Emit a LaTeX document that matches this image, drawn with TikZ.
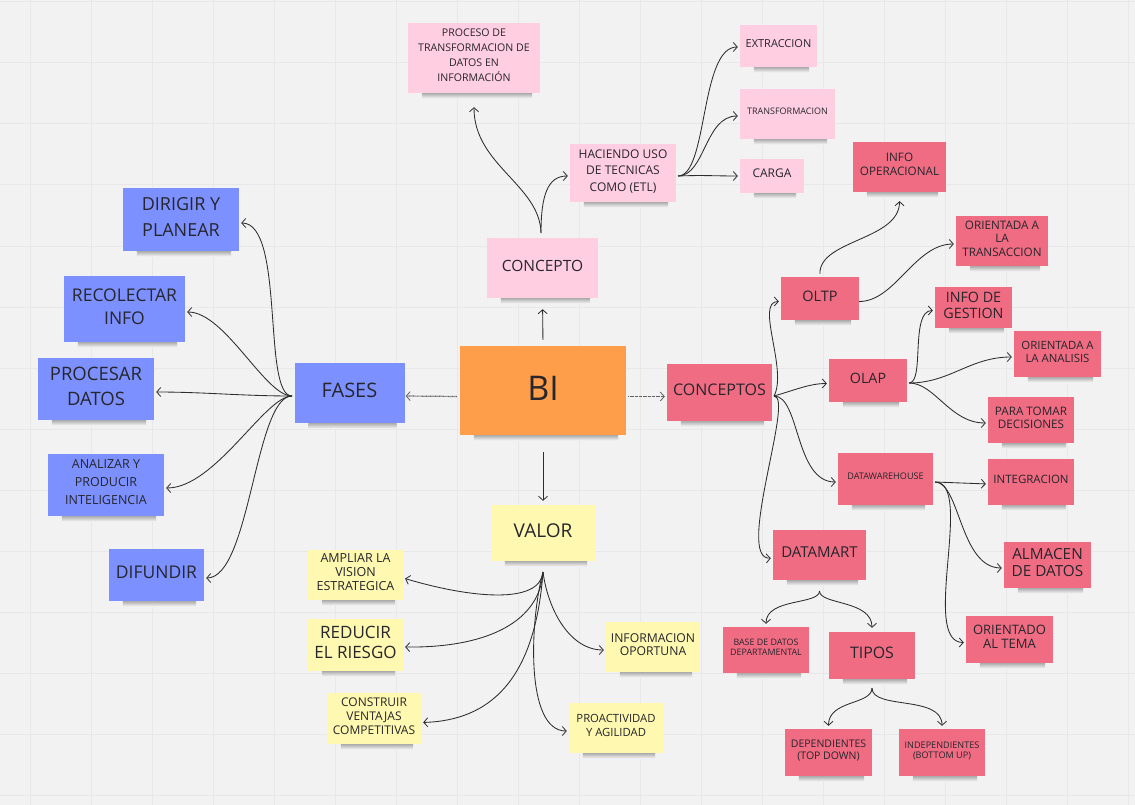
\documentclass[tikz,border=0pt]{standalone}
\usepackage{fontspec}
\setmainfont{Open Sans}
\usetikzlibrary{arrows.meta}
\definecolor{bg}{RGB}{242,242,242}
\definecolor{gridc}{RGB}{232,232,232}
\definecolor{nblue}{RGB}{124,145,255}
\definecolor{norange}{RGB}{255,158,74}
\definecolor{npink}{RGB}{255,206,224}
\definecolor{nred}{RGB}{240,108,131}
\definecolor{nyellow}{RGB}{255,248,176}
\definecolor{ink}{RGB}{38,38,44}
\definecolor{wire}{RGB}{45,45,45}
\begin{document}
\begin{tikzpicture}[x=1pt,y=-1pt,
  note/.style={rectangle, inner sep=0pt, align=center, text=ink, text depth=5pt},
  sz/.style 2 args={minimum width=#1, minimum height=#2},
  fs/.style 2 args={font=\fontsize{#1}{#2}\selectfont},
  bluenote/.style={note, fill=nblue},
  pinknote/.style={note, fill=npink},
  rednote/.style={note, fill=nred},
  yellownote/.style={note, fill=nyellow},
  notefade/.style={top color=black!32, bottom color=bg, draw=none},
  wire/.style={draw=wire, line width=0.85pt, -{Straight Barb[length=4pt,width=9pt,line width=0.8pt]}},
  dotwire/.style={wire, draw=wire!75, line width=1.2pt, dash pattern=on 0.8pt off 0.5pt}
]
\useasboundingbox (0,0) rectangle (1135,805);
\fill[bg] (0,0) rectangle (1135,805);
\foreach \i in {0,...,18} \draw[gridc, line width=1pt] ({30+61*\i},0) -- ({30+61*\i},805);
\foreach \j in {0,...,13} \draw[gridc, line width=1pt] (0,{2+61*\j}) -- (1135,{2+61*\j});

% central
\node[note, fill=norange, sz={166}{89}, fs={34}{40}] (bi) at (543,390.5) {BI};
\node[pinknote, sz={111}{60}, fs={15.5}{22}] (concepto) at (542.5,268) {CONCEPTO};
\node[bluenote, sz={110}{60}, fs={20}{28}] (fases) at (349.5,393) {FASES};
\node[yellownote, sz={104}{56}, fs={19}{27}] (valor) at (543,533) {VALOR};
\node[rednote, sz={105}{57}, fs={16}{22}] (conceptos) at (719.5,392.5) {CONCEPTOS};

% top
\node[pinknote, sz={132}{70}, fs={10.6}{15}] (proceso) at (474,58) {PROCESO DE\\TRANSFORMACION DE\\DATOS EN\\INFORMACIÓN};
\node[pinknote, sz={106}{58}, fs={12}{16.2}] (haciendo) at (623,173) {HACIENDO USO\\DE TECNICAS\\COMO (ETL)};
\node[pinknote, sz={77}{42}, fs={11}{15}] (extraccion) at (778.5,46) {EXTRACCION};
\node[pinknote, sz={95}{50}, fs={9}{13}] (transformacion) at (787.5,114) {TRANSFORMACION};
\node[pinknote, sz={64}{34}, fs={12}{16}] (carga) at (772,176) {CARGA};

% left
\node[bluenote, sz={116}{63}, fs={18}{26}] (dirigir) at (181,219.5) {DIRIGIR Y\\PLANEAR};
\node[bluenote, sz={121}{66}, fs={17.5}{23.5}] (recolectar) at (124.5,309) {RECOLECTAR\\INFO};
\node[bluenote, sz={116}{62}, fs={18.5}{25.5}] (procesar) at (96,389) {PROCESAR\\DATOS};
\node[bluenote, sz={116}{62}, fs={12.5}{18}] (analizar) at (106,485) {ANALIZAR Y\\PRODUCIR\\INTELIGENCIA};
\node[bluenote, sz={95}{52}, fs={17.5}{24}] (difundir) at (156.5,575) {DIFUNDIR};

% bottom
\node[yellownote, sz={95}{50}, fs={12.5}{14}] (ampliar) at (355.5,575) {AMPLIAR LA\\VISION\\ESTRATEGICA};
\node[yellownote, sz={95}{52}, fs={17}{19.5}] (reducir) at (355.5,645) {REDUCIR\\EL RIESGO};
\node[yellownote, sz={94}{51}, fs={12}{14}] (construir) at (374,718.5) {CONSTRUIR\\VENTAJAS\\COMPETITIVAS};
\node[yellownote, sz={94}{50}, fs={12.2}{13.5}] (informacion) at (653,647) {INFORMACION\\OPORTUNA};
\node[yellownote, sz={94}{50}, fs={11.3}{14}] (proactividad) at (616,728) {PROACTIVIDAD\\Y AGILIDAD};

% right
\node[rednote, sz={93}{50}, fs={11.7}{13.7}] (infoop) at (899.5,167) {INFO\\OPERACIONAL};
\node[rednote, sz={92}{50}, fs={11.7}{13.3}] (orientrans) at (1002,241) {ORIENTADA A\\LA\\TRANSACCION};
\node[rednote, sz={78}{43}, fs={14.5}{18}] (oltp) at (820,298.5) {OLTP};
\node[rednote, sz={77}{41}, fs={14.3}{16}] (infogest) at (973.5,307.5) {INFO DE\\GESTION};
\node[rednote, sz={87}{46}, fs={11.4}{12.8}] (orienanal) at (1057.5,354) {ORIENTADA A\\LA ANALISIS};
\node[rednote, sz={78}{43}, fs={14.3}{18}] (olap) at (868,380.5) {OLAP};
\node[rednote, sz={86}{46}, fs={11.7}{13}] (paratomar) at (1031,420) {PARA TOMAR\\DECISIONES};
\node[rednote, sz={95}{52}, fs={9.1}{12}] (dwh) at (885.5,479) {DATAWAREHOUSE};
\node[rednote, sz={86}{46}, fs={11.5}{14}] (integracion) at (1031,482) {INTEGRACION};
\node[rednote, sz={93}{50}, fs={15}{18}] (datamart) at (819.5,555) {DATAMART};
\node[rednote, sz={87}{46}, fs={15.3}{17.7}] (almacen) at (1047.5,565) {ALMACEN\\DE DATOS};
\node[rednote, sz={87}{47}, fs={13}{14.3}] (orientema) at (1009.5,639.5) {ORIENTADO\\AL TEMA};
\node[rednote, sz={86}{46}, fs={8.9}{10}] (base) at (766,650) {BASE DE DATOS\\DEPARTAMENTAL};
\node[rednote, sz={86}{47}, fs={15.9}{18}] (tipos) at (872,655.5) {TIPOS};
\node[rednote, sz={87}{47}, fs={10.5}{11.7}] (dependientes) at (828.5,752.5) {DEPENDIENTES\\(TOP DOWN)};
\node[rednote, sz={86}{47}, fs={9.1}{10}] (independientes) at (942,752.5) {INDEPENDIENTES\\(BOTTOM UP)};

% soft shadows under the notes
\foreach \n in {bi,concepto,fases,valor,conceptos,proceso,haciendo,extraccion,transformacion,carga,
  dirigir,recolectar,procesar,analizar,difundir,ampliar,reducir,construir,informacion,proactividad,
  infoop,orientrans,oltp,infogest,orienanal,olap,paratomar,dwh,integracion,datamart,almacen,orientema,
  base,tipos,dependientes,independientes}
  \shade[notefade] ([xshift=14pt]\n.south west) rectangle ([xshift=-8pt,yshift=-5pt]\n.south east);

% hubs
\coordinate (ctop) at (541,233);
\coordinate (hout) at (678,176);
\coordinate (fout) at (292,396);
\coordinate (vout) at (543,572);
\coordinate (cout) at (774,396);
\coordinate (olapout) at (909,383);
\coordinate (dwhout) at (935,482);
\coordinate (dmout) at (819.5,591);
\coordinate (tout) at (872,688);

% BI
\draw[wire, shorten <=6pt, shorten >=11pt] (bi.north) -- (concepto.south);
\draw[wire, shorten <=17pt, shorten >=4pt] (bi.south) -- (valor.north);
\draw[dotwire, shorten <=3pt, shorten >=1pt] ([yshift=-6pt]bi.west) -- ([yshift=-3pt]fases.east);
\draw[dotwire, shorten <=2pt, shorten >=2pt] ([yshift=-6pt]bi.east) -- ([yshift=-4pt]conceptos.west);

% concepto
\draw[wire, shorten >=14pt] (ctop) .. controls +(-1,-48) and +(0,72) .. (proceso.south);
\draw[wire, shorten >=2pt] (ctop) .. controls +(0,-38) and +(-22,0) .. ([yshift=-3pt]haciendo.west);
\draw[wire, shorten >=2pt] (hout) .. controls +(30,0) and +(-40,0) .. ([yshift=-1pt]extraccion.west);
\draw[wire, shorten >=2pt] (hout) .. controls +(27,0) and +(-35,0) .. ([yshift=-2pt]transformacion.west);
\draw[wire, shorten >=2pt] (hout) .. controls +(25,-1) and +(-25,0) .. (carga.west);

% fases
\draw[wire, shorten >=2pt] (fout) .. controls +(-30,0) and +(46,0) .. ([yshift=-3.5pt]dirigir.east);
\draw[wire, shorten >=2pt] (fout) .. controls +(-27,0) and +(40,0) .. ([yshift=-3pt]recolectar.east);
\draw[wire, shorten >=2pt] (fout) .. controls +(-50,0) and +(50,0) .. ([yshift=-3pt]procesar.east);
\draw[wire, shorten >=2pt] (fout) .. controls +(-27,0) and +(51,0) .. ([yshift=-3pt]analizar.east);
\draw[wire, shorten >=2pt] (fout) .. controls +(-37,0) and +(46,0) .. ([yshift=-3pt]difundir.east);

% valor
\draw[wire, shorten >=2pt] (vout) .. controls +(-3,33) and +(67,20) .. ([yshift=-3pt]ampliar.east);
\draw[wire, shorten >=2pt] (vout) .. controls +(-3,48) and +(87,1) .. ([yshift=-2pt]reducir.east);
\draw[wire, shorten >=2pt] (vout) .. controls +(-8,108) and +(69,-2) .. ([yshift=-4pt]construir.east);
\draw[wire, shorten >=2pt] (vout) .. controls +(-13,48) and +(-44,0) .. ([yshift=-3pt]proactividad.west);
\draw[wire, shorten >=2pt] (vout) .. controls +(5,38) and +(-36,0) .. ([yshift=-3pt]informacion.west);

% conceptos
\draw[wire, shorten >=2pt] (cout) .. controls +(14,-26) and +(-26,0) .. ([yshift=-3pt]oltp.west);
\draw[wire, shorten >=2pt] (cout) .. controls +(21,-6) and +(-19,0) .. ([yshift=-3pt]olap.west);
\draw[wire, shorten >=2pt] (cout) .. controls +(26,0) and +(-43,0) .. ([yshift=-3pt]dwh.west);
\draw[wire, shorten >=2pt] (cout) .. controls +(21,0) and +(-38,2) .. ([yshift=-3pt]datamart.west);

% oltp
\draw[wire, shorten <=3pt, shorten >=9pt] (oltp.north) .. controls +(-1,-37) and +(0,48) .. (infoop.south);
\draw[wire, shorten >=2pt] ([yshift=-3pt]oltp.east) .. controls +(36,0) and +(-41,0) .. ([yshift=-3pt]orientrans.west);

% olap
\draw[wire, shorten >=2pt] (olapout) .. controls +(16,0) and +(-25,0) .. ([yshift=-3pt]infogest.west);
\draw[wire, shorten >=2pt] (olapout) .. controls +(41,0) and +(-44,0) .. ([yshift=-3pt]orienanal.west);
\draw[wire, shorten >=2pt] (olapout) .. controls +(26,0) and +(-38,0) .. ([yshift=-3pt]paratomar.west);

% datawarehouse
\draw[wire, shorten >=2pt] (dwhout) -- ([yshift=-2pt]integracion.west);
\draw[wire, shorten >=2pt] (dwhout) .. controls +(25,0) and +(-44,0) .. ([yshift=-3pt]almacen.west);
\draw[wire, shorten >=2pt] (dwhout) .. controls +(40,0) and +(-46,0) .. ([yshift=-3pt]orientema.west);

% datamart
\draw[wire, shorten >=3pt] (dmout) .. controls +(0,14) and +(0,-29) .. (base.north);
\draw[wire, shorten >=4pt] (dmout) .. controls +(0,14) and +(0,-32) .. (tipos.north);

% tipos
\draw[wire, shorten >=3pt] (tout) .. controls +(0,17) and +(0,-29) .. (dependientes.north);
\draw[wire, shorten >=3pt] (tout) .. controls +(0,22) and +(0,-34) .. (independientes.north);
\end{tikzpicture}
\end{document}
